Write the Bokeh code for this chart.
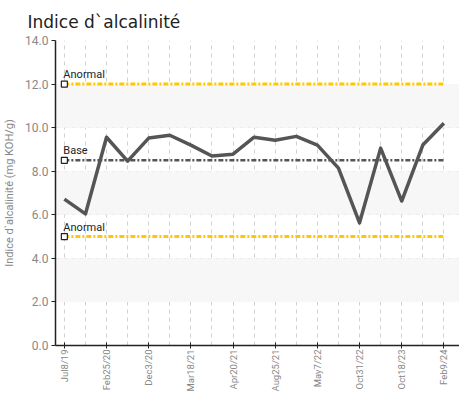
from bokeh.plotting import figure
from bokeh.models import BoxAnnotation, FixedTicker, Range1d, ColumnDataSource
from bokeh.core.properties import value
from bokeh.embed import file_html
from bokeh.resources import INLINE

dates = ["Jul8/19", "", "Feb25/20", "", "Dec3/20", "", "Mar18/21", "", "Apr20/21", "",
         "Aug25/21", "", "May7/22", "", "Oct31/22", "", "Oct18/23", "", "Feb9/24"]
values = [6.72, 6.04, 9.56, 8.46, 9.52, 9.65, 9.2, 8.7, 8.78, 9.56,
          9.42, 9.6, 9.2, 8.14, 5.63, 9.06, 6.63, 9.2, 10.2]
upper_limit = 12.0
lower_limit = 5.0
base_value = 8.5
ref_labels = ["Anormal", "Base", "Anormal"]
bands = [(2, 4), (6, 8), (10, 12)]

n = len(values)
xs = list(range(n))

p = figure(width=459, height=394, output_backend="svg", toolbar_location=None,
           x_range=Range1d(-0.42, n - 1 + 0.74), y_range=Range1d(0, 14),
           title="Indice d`alcalinité")
p.min_border_right = 0
p.min_border_left = 0
p.min_border_bottom = 0
p.outline_line_color = None
p.background_fill_color = "white"

p.title.text_font = "DejaVu Sans"
p.title.text_font_size = "17px"
p.title.text_font_style = "normal"
p.title.text_color = "#222222"
p.title.offset = -28
p.title.standoff = 18

for b0, b1 in bands:
    p.add_layout(BoxAnnotation(bottom=b0, top=b1, fill_color="#f7f7f7", fill_alpha=1.0, line_color=None, level="underlay"))

# grids
p.xgrid.ticker = FixedTicker(ticks=xs)
p.xgrid.grid_line_color = "#d0d0d0"
p.xgrid.grid_line_dash = "4 4"
p.ygrid.ticker = FixedTicker(ticks=[2, 4, 6, 8, 10, 12, 14])
p.ygrid.grid_line_color = "#d0d0d0"
p.ygrid.grid_line_dash = "4 4"

# axes
p.xaxis.ticker = FixedTicker(ticks=[i for i in xs if dates[i]])
p.xaxis.major_label_overrides = {i: dates[i] for i in xs if dates[i]}
p.xaxis.major_label_orientation = 1.5708
p.xaxis.axis_line_color = "#222222"
p.xaxis.axis_line_width = 1.5
p.xaxis.major_tick_line_color = "#222222"
p.xaxis.major_tick_in = 3
p.xaxis.major_tick_out = 3
p.xaxis.minor_tick_line_color = None
p.xaxis.major_label_text_font = "Roboto"
p.xaxis.major_label_text_font_size = "9.5px"
p.xaxis.major_label_text_color = "#888888"
p.xaxis.major_label_standoff = 1

p.yaxis.ticker = FixedTicker(ticks=[0, 2, 4, 6, 8, 10, 12, 14])
p.yaxis.major_label_overrides = {v: f"{v:.1f}" for v in [0, 2, 4, 6, 8, 10, 12, 14]}
p.yaxis.axis_line_color = "#222222"
p.yaxis.axis_line_width = 1.5
p.yaxis.major_tick_line_color = "#222222"
p.yaxis.major_tick_in = 0
p.yaxis.major_tick_out = 4
p.yaxis.minor_tick_line_color = None
p.yaxis.major_label_text_font = "Roboto"
p.yaxis.major_label_text_font_size = "12px"
p.yaxis.major_label_text_color = "#888888"
p.yaxis.major_label_standoff = 3
p.yaxis.axis_label = "Indice d`alcalinité (mg KOH/g)"
p.yaxis.axis_label_text_font = "Roboto"
p.yaxis.axis_label_text_font_size = "11px"
p.yaxis.axis_label_text_font_style = "normal"
p.yaxis.axis_label_text_color = "#888888"
p.yaxis.axis_label_standoff = 6

# reference lines
x_ends = [xs[0], xs[-1]]
p.line(x_ends, [upper_limit, upper_limit], line_color="#FFC800", line_width=3, line_dash="5 2 2 2")
p.line(x_ends, [lower_limit, lower_limit], line_color="#FFC800", line_width=3, line_dash="5 2 2 2")
p.line(x_ends, [base_value, base_value], line_color="#555555", line_width=2.5, line_dash="5 2 2 2")

# series
p.line(xs, values, line_color="#555555", line_width=3.5, line_join="round")

ref_src = ColumnDataSource(dict(x=[0, 0, 0], y=[upper_limit, base_value, lower_limit], t=ref_labels))
p.scatter("x", "y", source=ref_src, marker="square", size=6, fill_color="white", line_color="#222222", line_width=1.2)
p.text("x", "y", text="t", source=ref_src, text_font=value("Roboto"), text_font_size="11px",
       text_color="#222222", text_baseline="bottom", text_align="left", y_offset=-3, x_offset=-1)

open("out.html", "w").write(file_html(p, INLINE))
